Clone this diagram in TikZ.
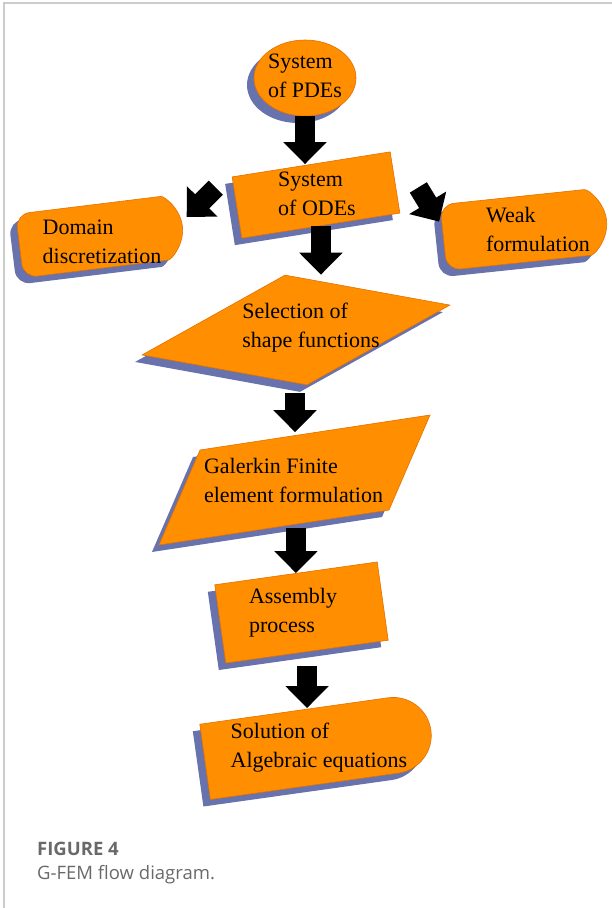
\documentclass[tikz,border=0pt]{standalone}
\usepackage{fontspec}
\setmainfont{Liberation Serif}
\newfontfamily\captionfont{Open Sans}
\usetikzlibrary{arrows.meta,shapes.geometric,shapes.misc,shadows}

\definecolor{boxorange}{RGB}{255,143,0}
\definecolor{boxedge}{RGB}{226,112,0}
\definecolor{boxshadow}{RGB}{104,114,172}
\definecolor{framegray}{RGB}{204,204,204}
\definecolor{captiongray}{RGB}{105,105,105}

\begin{document}
\begin{tikzpicture}[
	x=1pt, y=1pt,
	shape style/.style={
		fill=boxorange,
		draw=boxedge,
		line width=0.6pt,
		inner sep=0pt,
		drop shadow={shadow xshift=-7pt, shadow yshift=-7pt, fill=boxshadow, opacity=1}
	},
	text style/.style={
		align=left,
		inner sep=0pt,
		font=\fontsize{22}{29}\selectfont
	},
	caption style/.style={
		anchor=base west,
		inner sep=0pt,
		text=captiongray
	},
	block arrow/.style={
		line width=20pt,
		-{Triangle[length=22pt,width=42pt]}
	}
	]
	\useasboundingbox (0,0) rectangle (612,-908);
	\draw[framegray, line width=1.2pt] (4,-908) -- (4,-3) -- (612,-3);
	
	% boxes
	\node[shape style, ellipse, minimum width=102, minimum height=76] (pde) at (305,-78) {};
	\node[shape style, rectangle, minimum width=160, minimum height=62, rotate=9] (ode) at (316,-195) {};
	\node[shape style, rounded rectangle, rounded rectangle west arc=none, rounded corners=14pt,
		minimum width=164, minimum height=64, rotate=7] (dom) at (101,-236) {};
	\node[shape style, rounded rectangle, rounded rectangle west arc=none, rounded corners=14pt,
		minimum width=164, minimum height=66, rotate=6] (weak) at (525,-229) {};
	\node[shape style, diamond, minimum width=308, minimum height=110,
		cm={1,0.162,-0.2,1,(0,0)}] (sel) at (296,-330) {};
	\node[shape style, rectangle, minimum width=230, minimum height=95,
		cm={1,0.152,0.432,1,(0,0)}] (gal) at (294.5,-480) {};
	\node[shape style, rectangle, minimum width=164, minimum height=79, rotate=8] (asm) at (301.5,-612.5) {};
	\node[shape style, rounded rectangle, rounded rectangle west arc=none,
		minimum width=228, minimum height=76, rotate=8] (sol) at (318,-746) {};
	
	% arrows
	\draw[block arrow] (pde.south) -- (pde.south |- ode.north);
	\draw[block arrow] ([xshift=-16pt,yshift=-11pt]ode.north west) -- ([xshift=4pt,yshift=9pt]dom.east);
	\draw[block arrow] ([xshift=23pt,yshift=-5pt]ode.east) -- ([xshift=-4pt,yshift=16pt]weak.west);
	\draw[block arrow] (ode.south) -- (ode.south |- sel.north);
	\draw[block arrow] ([xshift=-12pt,yshift=-8pt]sel.south) -- ([xshift=-12pt]sel.south |- gal.north);
	\draw[block arrow] (gal.south -| asm.north) -- (asm.north);
	\draw[block arrow] ([yshift=-14pt]asm.south) -- (asm.south |- sol.north);
	
	% texts
	\node[text style] (pdeText) at (305,-76) {System\\of PDEs};
	\node[text style] (odeText) at (317,-194) {System\\of ODEs};
	\node[text style] (domText) at (102,-242) {Domain\\discretization};
	\node[text style] (weakText) at (538,-229) {Weak\\formulation};
	\node[text style] (selText) at (311,-328) {Selection of\\shape functions};
	\node[text style] (galText) at (293.5,-480) {Galerkin Finite\\element formulation};
	\node[text style] (asmText) at (293,-613) {Assembly\\process};
	\node[text style] (solText) at (319,-748) {Solution of\\Algebraic equations};
	
	\node[caption style, font=\captionfont\bfseries\fontsize{18.5}{22}\selectfont] (figNo) at (37,-855) {FIGURE 4};
	\node[caption style, font=\captionfont\fontsize{18.5}{22}\selectfont] (figCaption) at (37,-879) {G-FEM flow diagram.};
\end{tikzpicture}
\end{document}
